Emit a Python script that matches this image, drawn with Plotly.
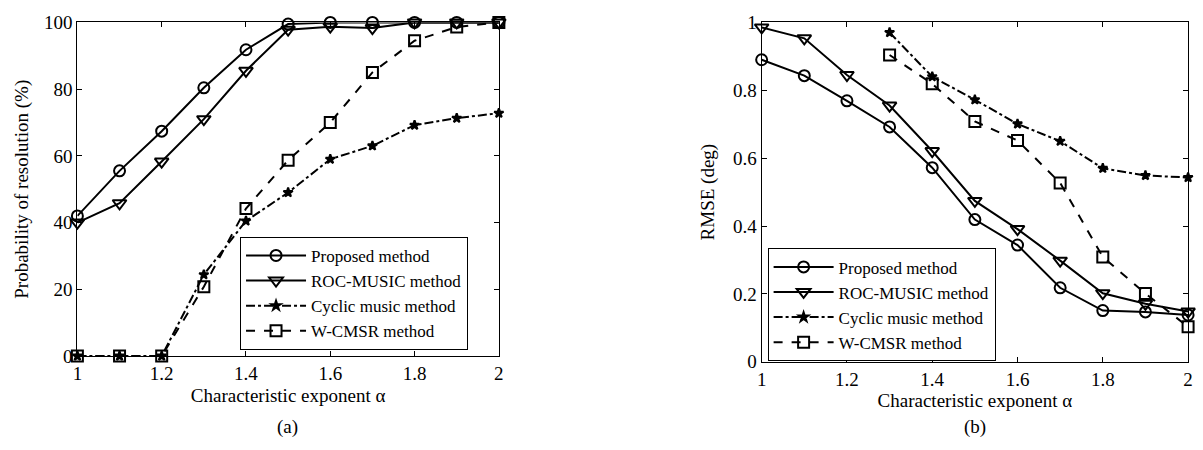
import plotly.graph_objects as go

alpha = [1.0, 1.1, 1.2, 1.3, 1.4, 1.5, 1.6, 1.7, 1.8, 1.9, 2.0]

# (a) Probability of resolution (%)
prob_proposed = [42, 55.5, 67.4, 80.4, 91.8, 99.5, 100, 100, 100, 100, 100]
prob_roc = [40, 45.8, 58.3, 71, 85.5, 97.8, 98.7, 98.3, 100, 100, 100]
prob_cyclic = [0, 0, 0, 24.4, 40.5, 49, 59, 63, 69.2, 71.3, 72.8]
prob_wcmsr = [0, 0, 0, 20.8, 44.2, 58.7, 70, 85, 94.5, 98.6, 100]

# (b) RMSE (deg)
rmse_proposed = [0.890, 0.843, 0.769, 0.692, 0.572, 0.419, 0.344, 0.218, 0.151, 0.147, 0.138]
rmse_roc = [0.985, 0.953, 0.845, 0.755, 0.621, 0.474, 0.391, 0.298, 0.202, 0.171, 0.148]
rmse_cyclic = [None, None, None, 0.970, 0.840, 0.772, 0.701, 0.650, 0.570, 0.549, 0.543]
rmse_wcmsr = [None, None, None, 0.904, 0.819, 0.708, 0.652, 0.527, 0.309, 0.201, 0.103]

names = ["Proposed method", "ROC-MUSIC method", "Cyclic music method", "W-CMSR method"]
x_ticks = [1, 1.2, 1.4, 1.6, 1.8, 2]
x_ticktext = ["1", "1.2", "1.4", "1.6", "1.8", "2"]
ya_ticks = [0, 20, 40, 60, 80, 100]
yb_ticks = [0, 0.2, 0.4, 0.6, 0.8, 1]
yb_ticktext = ["0", "0.2", "0.4", "0.6", "0.8", "1"]

FONT = "Liberation Serif"
FS = 19
styles = [
    dict(dash="solid", symbol="circle-open", size=11),
    dict(dash="solid", symbol="triangle-down-open", size=12),
    dict(dash="dashdot", symbol="star", size=7),
    dict(dash="dash", symbol="square-open", size=11),
]

fig = go.Figure()

def add_series(ys, xa, ya, legend):
    for name, y, st in zip(names, ys, styles):
        fig.add_trace(go.Scatter(
            x=alpha, y=y, name=name, mode="lines+markers",
            xaxis=xa, yaxis=ya, legend=legend, cliponaxis=False,
            line=dict(color="black", width=2, dash=st["dash"]),
            marker=dict(symbol=st["symbol"], size=st["size"], color="black",
                        line=dict(color="black", width=2)),
            connectgaps=False,
        ))

add_series([prob_proposed, prob_roc, prob_cyclic, prob_wcmsr], "x", "y", "legend")
add_series([rmse_proposed, rmse_roc, rmse_cyclic, rmse_wcmsr], "x2", "y2", "legend2")

W, H = 1203, 450
def px_x(p):
    return p / W
def px_y(p):
    return 1 - p / H

axis_common = dict(
    showgrid=False, zeroline=False, showline=True, linecolor="black", linewidth=1,
    mirror="ticks", ticks="inside", ticklen=5, tickcolor="black",
    tickfont=dict(family=FONT, size=FS, color="black"),
    title_font=dict(family=FONT, size=FS, color="black"),
)

legend_common = dict(
    bgcolor="white", bordercolor="black", borderwidth=1,
    font=dict(family=FONT, size=17, color="black"),
    itemwidth=60, tracegroupgap=0,
)

fig.update_layout(
    width=W, height=H, margin=dict(l=0, r=0, t=0, b=0),
    plot_bgcolor="white", paper_bgcolor="white",
    showlegend=True,
    xaxis=dict(axis_common, domain=[px_x(73), px_x(498)], range=[1, 2],
               tickvals=x_ticks, ticktext=x_ticktext, anchor="y",
               title=dict(text="Characteristic exponent α", standoff=5)),
    yaxis=dict(axis_common, domain=[px_y(363), px_y(13)], range=[0, 100],
               tickvals=ya_ticks, anchor="x",
               title=dict(text="Probability of resolution (%)", standoff=10)),
    xaxis2=dict(axis_common, domain=[px_x(763), px_x(1193)], range=[1, 2],
                tickvals=x_ticks, ticktext=x_ticktext, anchor="y2",
                title=dict(text="Characteristic exponent α", standoff=5)),
    yaxis2=dict(axis_common, domain=[px_y(369), px_y(13)], range=[0, 1],
                tickvals=yb_ticks, ticktext=yb_ticktext, anchor="x2",
                title=dict(text="RMSE (deg)", standoff=13)),
    legend=dict(legend_common, x=px_x(237), y=px_y(238), xanchor="left", yanchor="top"),
    legend2=dict(legend_common, x=px_x(769), y=px_y(250), xanchor="left", yanchor="top"),
    annotations=[
        dict(text="(a)", x=px_x(285), y=px_y(437), xref="paper", yref="paper",
             xanchor="center", yanchor="middle",
             showarrow=False, font=dict(family=FONT, size=FS, color="black")),
        dict(text="(b)", x=px_x(978), y=px_y(437), xref="paper", yref="paper",
             xanchor="center", yanchor="middle",
             showarrow=False, font=dict(family=FONT, size=FS, color="black")),
    ],
)

fig.write_html("out.html")
